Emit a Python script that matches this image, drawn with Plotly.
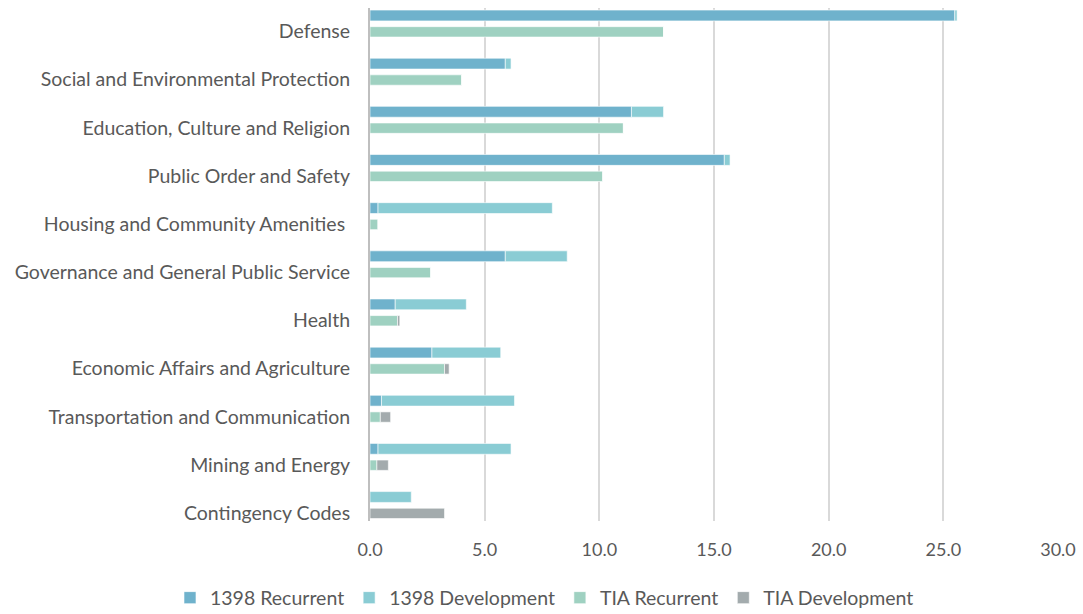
import plotly.graph_objects as go

# Budget by sector (billions), 1398 allocation vs TIA, split into recurrent and development
categories = [
    "Defense",
    "Social and Environmental Protection",
    "Education, Culture and Religion",
    "Public Order and Safety",
    "Housing and Community Amenities ",
    "Governance and General Public Service",
    "Health",
    "Economic Affairs and Agriculture",
    "Transportation and Communication",
    "Mining and Energy",
    "Contingency Codes",
]
rec_1398 = [25.5, 5.9, 11.4, 15.45, 0.35, 5.9, 1.1, 2.7, 0.5, 0.35, 0.0]
dev_1398 = [0.1, 0.25, 1.4, 0.25, 7.6, 2.7, 3.1, 3.0, 5.8, 5.8, 1.8]
tia_rec = [12.8, 4.0, 11.05, 10.15, 0.35, 2.65, 1.2, 3.25, 0.45, 0.3, 0.0]
tia_dev = [0.0, 0.0, 0.0, 0.0, 0.0, 0.0, 0.1, 0.2, 0.45, 0.5, 3.25]

x_ticks = [0, 5, 10, 15, 20, 25, 30]

C_REC_1398 = "#6FB2CC"
C_DEV_1398 = "#8ACCD4"
C_REC_TIA = "#9FD1C1"
C_DEV_TIA = "#A3ABAD"

FONT = "Lato, 'Open Sans', sans-serif"
TXT = "#595959"

edge = dict(color="rgba(255,255,255,0.6)", width=1)
top_bar = dict(offset=-0.445, width=0.225)
low_bar = dict(offset=-0.1, width=0.215)

fig = go.Figure()
fig.add_trace(go.Bar(name="1398 Recurrent", y=categories, x=rec_1398, orientation="h",
                     marker=dict(color=C_REC_1398, line=edge), **top_bar))
fig.add_trace(go.Bar(name="1398 Development", y=categories, x=dev_1398, base=rec_1398,
                     orientation="h", marker=dict(color=C_DEV_1398, line=edge), **top_bar))
fig.add_trace(go.Bar(name="TIA Recurrent", y=categories, x=tia_rec, orientation="h",
                     marker=dict(color=C_REC_TIA, line=edge), **low_bar))
fig.add_trace(go.Bar(name="TIA Development", y=categories, x=tia_dev, base=tia_rec,
                     orientation="h", marker=dict(color=C_DEV_TIA, line=edge), **low_bar))

n = len(categories)
fig.update_layout(
    width=1083, height=614,
    barmode="overlay",
    plot_bgcolor="white", paper_bgcolor="white",
    margin=dict(l=370, r=25, t=8, b=93, autoexpand=False),
    font=dict(family=FONT, size=19.5, color=TXT),
    showlegend=True,
    legend=dict(orientation="h", x=-0.2907, xanchor="left",
                y=-0.150, yanchor="middle",
                font=dict(family=FONT, size=19.5, color=TXT), traceorder="normal"),
    xaxis=dict(range=[0, 30], tickvals=x_ticks, tickformat=".1f",
               showgrid=True, gridcolor="#D9D9D9", gridwidth=1.5,
               zeroline=False, showline=False, ticks="", ticklabelstandoff=16,
               tickfont=dict(family=FONT, size=18, color=TXT)),
    yaxis=dict(type="category", categoryorder="array", categoryarray=categories,
               range=[n - 1 + 0.166, -0.488], showgrid=False, zeroline=False,
               showline=True, linecolor="#BFBFBF", linewidth=2, ticks="",
               ticklabelstandoff=14, tickfont=dict(family=FONT, size=19.5, color=TXT)),
)

fig.write_html("out.html")
